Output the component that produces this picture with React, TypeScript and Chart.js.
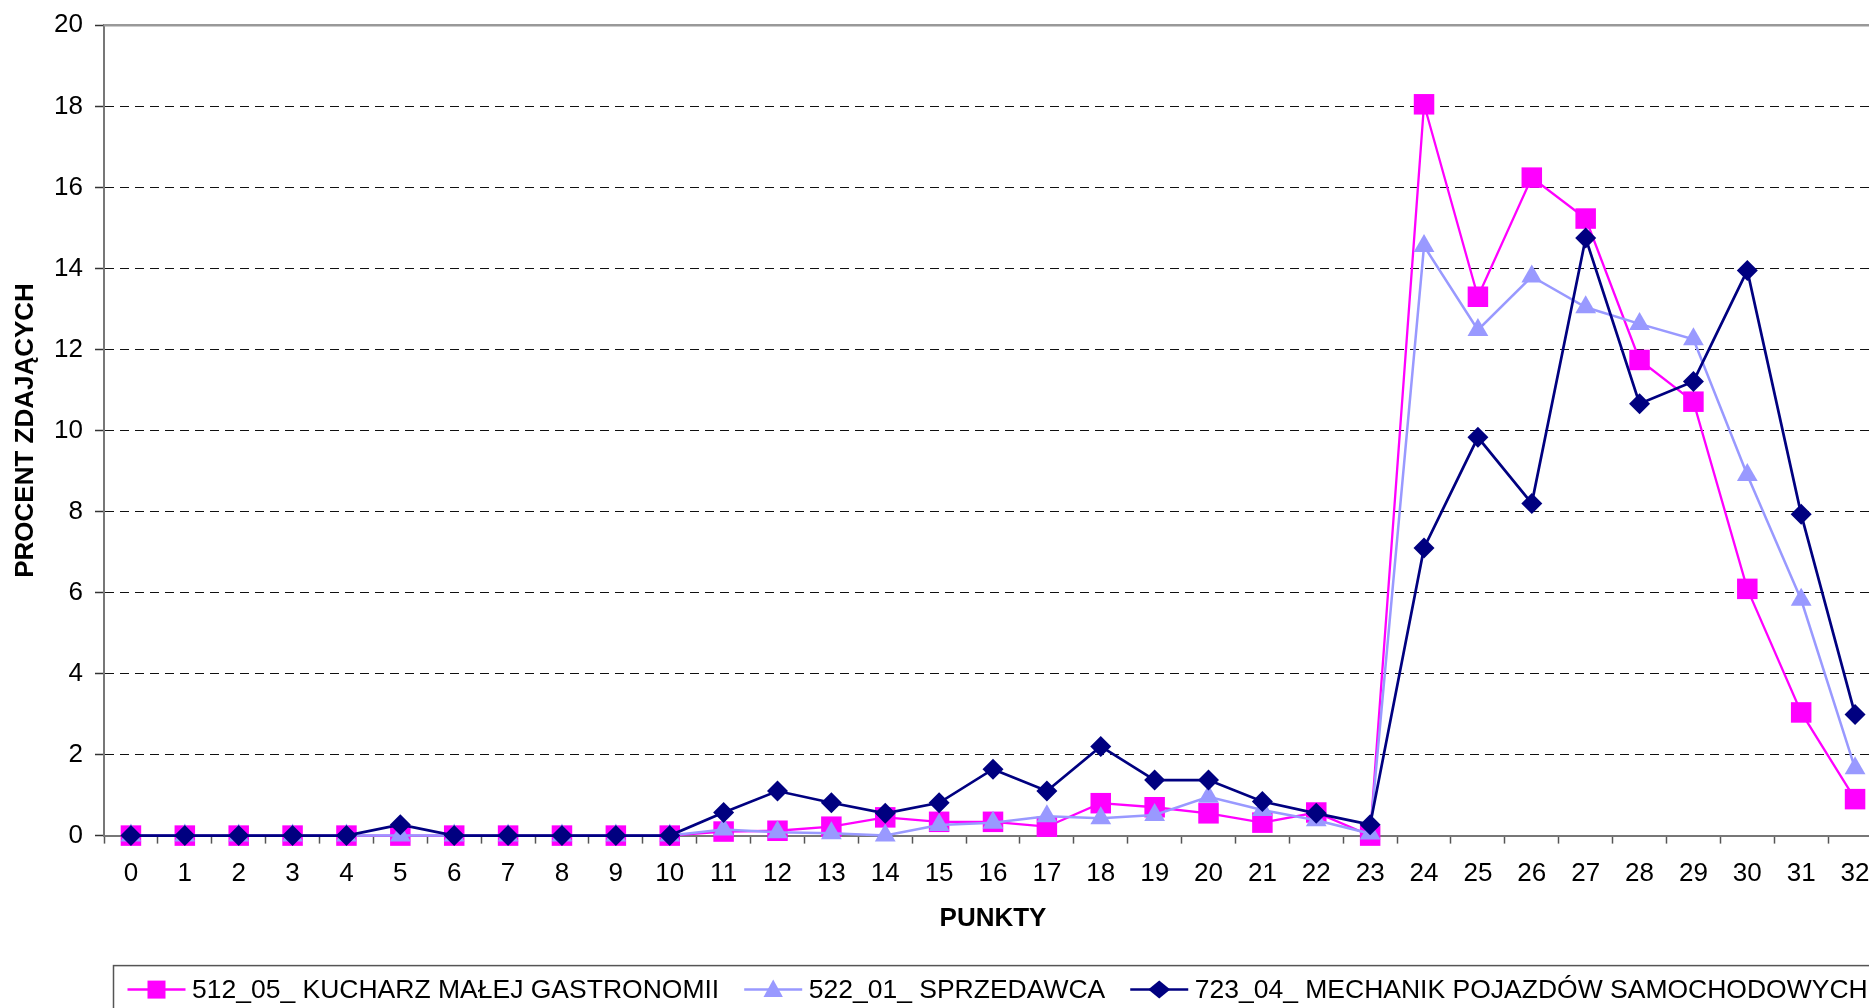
import React, { useEffect, useRef } from 'react';
import { Chart, registerables } from 'chart.js';

Chart.register(...registerables);

const pointLabels = ['0','1','2','3','4','5','6','7','8','9','10','11','12','13','14','15','16','17','18','19','20','21','22','23','24','25','26','27','28','29','30','31','32'];

const seriesNames = [
  '512_05_ KUCHARZ MAŁEJ GASTRONOMII',
  '522_01_ SPRZEDAWCA',
  '723_04_ MECHANIK POJAZDÓW SAMOCHODOWYCH',
];

const kucharz = [0,0,0,0,0,0,0,0,0,0,0,0.1,0.12,0.22,0.45,0.34,0.34,0.22,0.8,0.7,0.55,0.32,0.57,0,18.05,13.3,16.24,15.23,11.74,10.71,6.09,3.04,0.9];
const sprzedawca = [0,0,0,0,0,0,0,0,0,0,0,0.15,0.08,0.06,0,0.26,0.32,0.48,0.43,0.51,0.96,0.63,0.38,0.05,14.55,12.48,13.8,13.04,12.63,12.25,8.9,5.82,1.66];
const mechanik = [0,0,0,0,0,0.27,0,0,0,0,0,0.57,1.1,0.81,0.55,0.81,1.64,1.1,2.2,1.37,1.37,0.84,0.55,0.27,7.1,9.83,8.2,14.75,10.66,11.21,13.95,7.93,2.99];

const yMin = 0;
const yMax = 20;
const yStep = 2;

const FONT = "'Liberation Sans', Arial, sans-serif";
const colors = ['#FF00FF', '#9999FF', '#000080'];
const markers = ['rect', 'triangle', 'rectRot'];

function drawMarker(ctx: CanvasRenderingContext2D, kind: string, x: number, y: number) {
  ctx.beginPath();
  if (kind === 'rect') {
    ctx.rect(x - 9, y - 9, 18, 18);
  } else if (kind === 'triangle') {
    ctx.moveTo(x, y - 10);
    ctx.lineTo(x + 9.7, y + 7.3);
    ctx.lineTo(x - 9.7, y + 7.3);
    ctx.closePath();
  } else {
    ctx.moveTo(x - 11, y);
    ctx.lineTo(x, y - 9);
    ctx.lineTo(x + 11, y);
    ctx.lineTo(x, y + 9);
    ctx.closePath();
  }
  ctx.fill();
}

const extrasPlugin = {
  id: 'extras',
  afterDraw(chart: any) {
    const { ctx, chartArea: a } = chart;
    ctx.save();
    // plot-area top border
    ctx.strokeStyle = '#999';
    ctx.lineWidth = 2.5;
    ctx.beginPath();
    ctx.moveTo(a.left, a.top);
    ctx.lineTo(a.right, a.top);
    ctx.stroke();

    // legend box
    const boxLeft = a.left + 9.5;
    const boxTop = a.bottom + 130;
    ctx.strokeStyle = '#555';
    ctx.lineWidth = 1.5;
    ctx.strokeRect(boxLeft, boxTop, a.right - boxLeft, 60);

    ctx.font = `26.5px ${FONT}`;
    ctx.textBaseline = 'alphabetic';
    ctx.textAlign = 'left';
    const lineY = boxTop + 24;
    const textY = boxTop + 32;
    let x = boxLeft + 14;
    chart.data.datasets
      .slice()
      .sort((p: any, q: any) => p.legendIndex - q.legendIndex)
      .forEach((ds: any) => {
        ctx.strokeStyle = ds.borderColor;
        ctx.fillStyle = ds.borderColor;
        ctx.lineWidth = 2.5;
        ctx.beginPath();
        ctx.moveTo(x, lineY);
        ctx.lineTo(x + 58, lineY);
        ctx.stroke();
        drawMarker(ctx, ds.pointStyle, x + 29, lineY);
        ctx.fillStyle = '#000';
        const tx = x + 64.5;
        ctx.fillText(ds.label, tx, textY);
        x = tx + ctx.measureText(ds.label).width + 25;
      });
    ctx.restore();
  },
};

export default function App() {
  const ref = useRef<HTMLCanvasElement>(null);

  useEffect(() => {
    const seriesData = [kucharz, sprzedawca, mechanik];
    const widths = [2.3, 2.5, 2.7];
    const radii = [14.5, 12, 10.5];
    const chart = new Chart(ref.current as HTMLCanvasElement, {
      type: 'line',
      data: {
        labels: pointLabels,
        datasets: seriesData.map((d, i) => ({
          label: seriesNames[i],
          data: d,
          legendIndex: i,
          borderColor: colors[i],
          backgroundColor: colors[i],
          borderWidth: widths[i],
          pointStyle: markers[i],
          pointRadius: radii[i],
          pointHoverRadius: radii[i],
          pointBackgroundColor: colors[i],
          pointBorderColor: colors[i],
          pointBorderWidth: 0,
          tension: 0,
          clip: false,
          order: 3 - i,
        })) as any,
      },
      options: {
        responsive: false,
        maintainAspectRatio: false,
        animation: false,
        devicePixelRatio: 1,
        layout: { padding: { left: 0, top: 25.3, right: 18, bottom: 86 } },
        plugins: {
          legend: { display: false },
          tooltip: { enabled: false },
        },
        scales: {
          x: {
            type: 'category',
            offset: true,
            grid: {
              offset: true,
              drawOnChartArea: false,
              drawTicks: true,
              tickLength: 8,
              tickColor: '#555',
              tickWidth: 1.5,
            },
            border: { display: true, color: '#777', width: 2 },
            ticks: {
              autoSkip: false,
              maxRotation: 0,
              minRotation: 0,
              padding: 15,
              color: '#000',
              font: { family: FONT, size: 26 },
            },
            title: {
              display: true,
              text: 'PUNKTY',
              color: '#000',
              font: { family: FONT, size: 26, weight: 'bold' },
              padding: { top: 13, bottom: 0 },
            },
            afterFit: (s: any) => { s.height = 98.4; },
          },
          y: {
            min: yMin,
            max: yMax,
            ticks: {
              stepSize: yStep,
              padding: 12,
              color: '#000',
              font: { family: FONT, size: 26, lineHeight: 0.9 },
            },
            grid: {
              color: (c: any) => (c.tick && (c.tick.value === yMin || c.tick.value === yMax)) ? 'rgba(0,0,0,0)' : '#111',
              lineWidth: 1,
              tickLength: 9,
              tickColor: '#333',
              tickWidth: 1.5,
            },
            border: { display: true, color: '#777', width: 2, dash: [9, 6] },
            title: {
              display: true,
              text: 'PROCENT ZDAJĄCYCH',
              color: '#000',
              font: { family: FONT, size: 26, weight: 'bold' },
              padding: { top: 10, bottom: 0 },
            },
            afterFit: (s: any) => { s.width = 104; },
          },
        },
      } as any,
      plugins: [extrasPlugin],
    });
    return () => chart.destroy();
  }, []);

  return (
    <div style={{ position: 'fixed', left: 0, top: 0, width: 1869, height: 1008, overflow: 'hidden', background: '#fff' }}>
      <canvas ref={ref} width={1900} height={1020} style={{ display: 'block', width: 1900, height: 1020 }} />
    </div>
  );
}
